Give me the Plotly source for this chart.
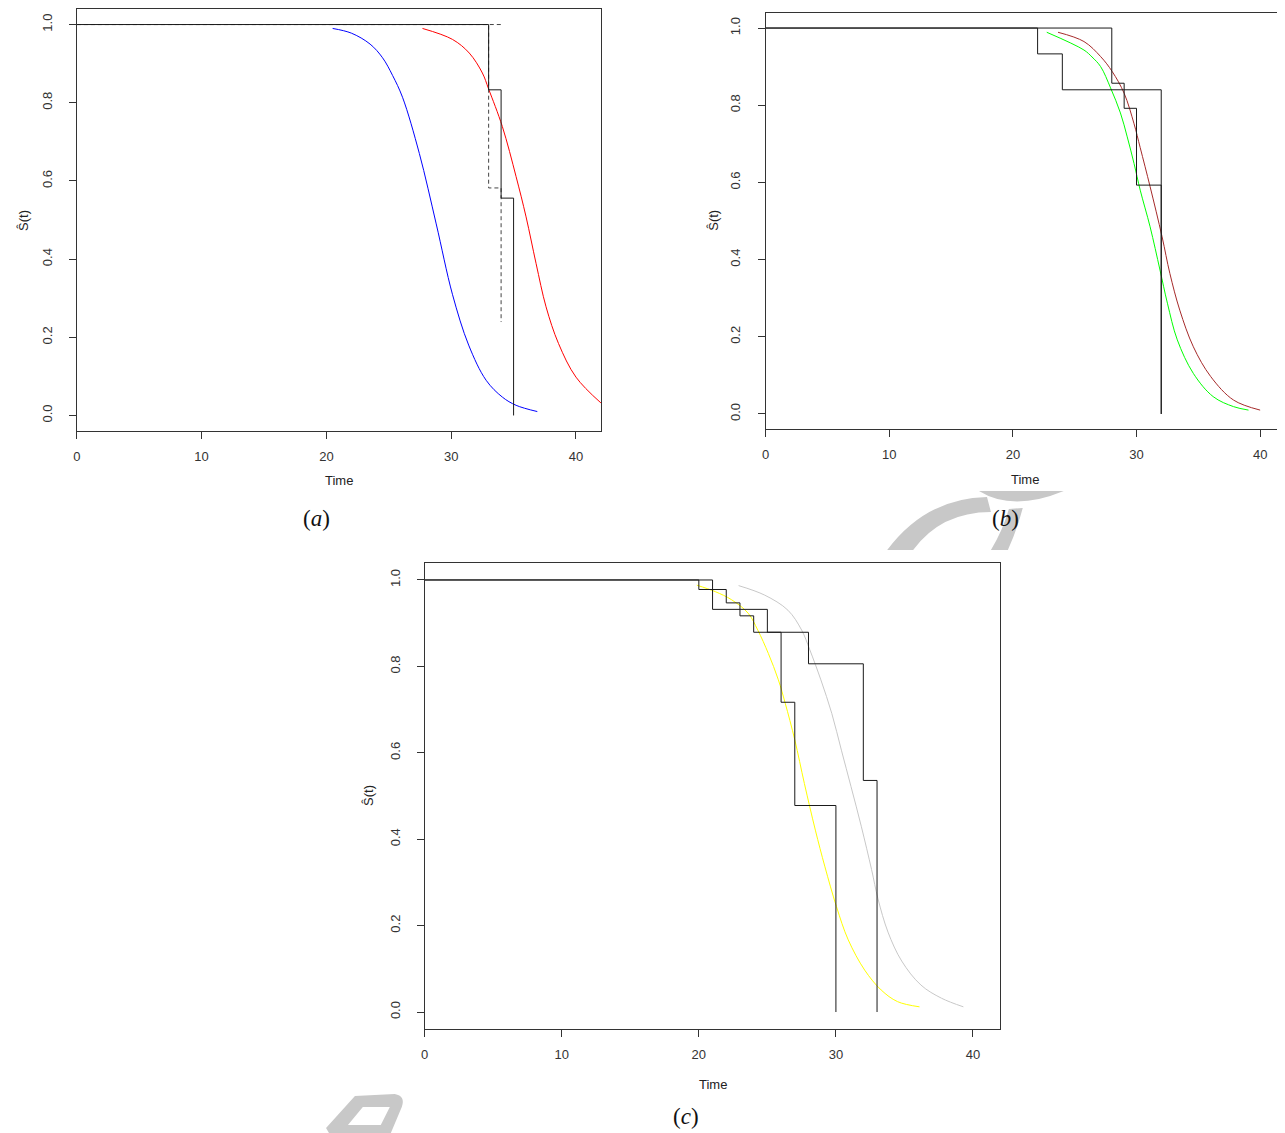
import plotly.graph_objects as go

# The page body has an 8px margin, so the figure is sized to fill the window exactly.
OFF = 8
W, H = 1285 - OFF, 1133 - OFF

# ---------------- data ----------------
# Panel (a)
a_km_t = [0, 33, 34, 35]
a_km_s = [1.0, 0.833, 0.556, 0.0]
a_lo_t = [0, 33, 34]
a_lo_s = [1.0, 0.582, 0.239]
a_up_t = [0, 34]
a_up_s = [1.0, 1.0]
a_blue_t = [20.5, 22.0, 23.5, 24.5, 25.3, 26.1, 27.45, 28.8, 30.1, 31.4, 32.8, 34.1, 35.2, 36.9]
a_blue_s = [0.99, 0.978, 0.95, 0.915, 0.87, 0.814, 0.67, 0.49, 0.31, 0.18, 0.09, 0.047, 0.026, 0.01]
a_red_t = [27.7, 30.1, 31.45, 32.5, 33.0, 34.1, 35.2, 36.0, 36.8, 37.6, 38.6, 40.0, 42.0]
a_red_s = [0.99, 0.962, 0.927, 0.876, 0.835, 0.739, 0.611, 0.508, 0.389, 0.278, 0.184, 0.098, 0.032]

# Panel (b)
b_km1_t = [0, 22, 24, 32]
b_km1_s = [1.0, 0.933, 0.84, 0.0]
b_km2_t = [0, 28, 29, 30, 32]
b_km2_s = [1.0, 0.857, 0.792, 0.593, 0.0]
b_green_t = [22.74, 25.75, 26.4, 27.1, 27.9, 28.7, 29.25, 29.8, 30.3, 31.1, 31.9, 32.5, 33.3, 34.6, 36.2, 37.85, 39.06]
b_green_s = [0.989, 0.943, 0.925, 0.9, 0.845, 0.78, 0.718, 0.649, 0.58, 0.485, 0.373, 0.287, 0.192, 0.105, 0.045, 0.019, 0.01]
b_brown_t = [23.65, 25.75, 27.1, 28.04, 29.0, 29.8, 30.3, 31.1, 32.07, 32.7, 33.5, 34.6, 36.0, 37.85, 40.0]
b_brown_s = [0.989, 0.965, 0.926, 0.887, 0.831, 0.752, 0.69, 0.589, 0.459, 0.364, 0.269, 0.174, 0.097, 0.036, 0.01]

# Panel (c)
c_km1_t = [0, 20, 22, 23, 24, 26, 27, 30]
c_km1_s = [1.0, 0.978, 0.947, 0.917, 0.879, 0.717, 0.478, 0.0]
c_km2_t = [0, 21, 25, 28, 32, 33]
c_km2_s = [1.0, 0.932, 0.879, 0.806, 0.536, 0.0]
c_yellow_t = [19.85, 21.2, 22.4, 23.6, 24.3, 25.07, 25.8, 26.3, 27.0, 27.7, 28.5, 29.2, 30.04, 30.9, 32.1, 33.3, 34.5, 36.1]
c_yellow_s = [0.988, 0.973, 0.954, 0.923, 0.884, 0.83, 0.769, 0.715, 0.63, 0.529, 0.421, 0.336, 0.244, 0.167, 0.097, 0.051, 0.024, 0.012]
c_gray_t = [22.9, 24.8, 26.5, 27.5, 28.1, 28.9, 29.7, 30.4, 31.1, 31.85, 32.6, 33.07, 33.8, 34.8, 36.2, 37.7, 39.3]
c_gray_s = [0.987, 0.965, 0.93, 0.884, 0.838, 0.769, 0.691, 0.606, 0.522, 0.43, 0.33, 0.262, 0.185, 0.118, 0.0625, 0.032, 0.012]

x_ticks = [0, 10, 20, 30, 40]
y_ticks = [0.0, 0.2, 0.4, 0.6, 0.8, 1.0]
captions = ["(<i>a</i>)", "(<i>b</i>)", "(<i>c</i>)"]
x_title = "Time"
y_title = "Ŝ(t)"

# ---------------- layout helpers (window pixel -> paper) ----------------
def px_x(p):
    return (p - OFF) / W

def px_y(p):
    return 1 - (p - OFF) / H

panels = {
    # name: (x0px, x1px, ytop_px, ybot_px, xrange_max)
    "a": (73, 598.8, 8.9, 431.1, 42.0),
    "b": (764, 1282, 12.6, 429.4, 41.77),
    "c": (422, 999.5, 562.7, 1029.3, 42.0),
}

fig = go.Figure()

def step(t, s, ax, dash="solid", color="#1a1a1a"):
    fig.add_trace(go.Scatter(x=t, y=s, mode="lines", line=dict(color=color, width=1, dash=dash, shape="hv"),
                             xaxis="x" + ax, yaxis="y" + ax, showlegend=False, hoverinfo="skip"))

def curve(t, s, ax, color):
    fig.add_trace(go.Scatter(x=t, y=s, mode="lines", line=dict(color=color, width=1, shape="spline", smoothing=1.0),
                             xaxis="x" + ax, yaxis="y" + ax, showlegend=False, hoverinfo="skip"))

# panel a -> axes x1/y1
curve(a_blue_t, a_blue_s, "", "#0000ff")
curve(a_red_t, a_red_s, "", "#ff0000")
step(a_up_t, a_up_s, "", dash="4px,3px", color="#444")
step(a_lo_t, a_lo_s, "", dash="4px,3px", color="#444")
step(a_km_t, a_km_s, "")
# panel b -> x2/y2
curve(b_green_t, b_green_s, "2", "#00ff00")
curve(b_brown_t, b_brown_s, "2", "#a52a2a")
step(b_km1_t, b_km1_s, "2")
step(b_km2_t, b_km2_s, "2")
# panel c -> x3/y3
curve(c_yellow_t, c_yellow_s, "3", "#ffff00")
curve(c_gray_t, c_gray_s, "3", "#c8c8c8")
step(c_km1_t, c_km1_s, "3")
step(c_km2_t, c_km2_s, "3")

tickfont = dict(family="Liberation Sans, Arial, sans-serif", size=13, color="#333")

def xaxis(p, anchor):
    x0, x1, yt, yb, xmax = panels[p]
    return dict(domain=[px_x(x0), px_x(x1)], range=[0, xmax], anchor=anchor,
                tickvals=x_ticks, ticks="outside", ticklen=7, tickcolor="#333", tickwidth=1,
                showline=True, linecolor="#333", linewidth=1, mirror=True, showgrid=False, zeroline=False,
                tickfont=tickfont, ticklabelstandoff=6, fixedrange=True)

def yaxis(p, anchor):
    x0, x1, yt, yb, xmax = panels[p]
    return dict(domain=[px_y(yb), px_y(yt)], range=[-0.04, 1.04], anchor=anchor,
                tickvals=y_ticks, tickformat=".1f", ticks="outside", ticklen=7, tickcolor="#333", tickwidth=1,
                tickangle=-90,
                showline=True, linecolor="#333", linewidth=1, mirror=True, showgrid=False, zeroline=False,
                tickfont=tickfont, ticklabelstandoff=12, fixedrange=True)

fig.update_layout(
    width=W, height=H, margin=dict(l=0, r=0, t=0, b=0),
    paper_bgcolor="white", plot_bgcolor="white",
    xaxis=xaxis("a", "y"), yaxis=yaxis("a", "x"),
    xaxis2=xaxis("b", "y2"), yaxis2=yaxis("b", "x2"),
    xaxis3=xaxis("c", "y3"), yaxis3=yaxis("c", "x3"),
)

# axis titles and captions as annotations
lab_font = dict(family="Liberation Sans, Arial, sans-serif", size=13, color="#222")
cap_font = dict(family="Liberation Serif, Times New Roman, serif", size=23, color="#111")
title_pos = {"a": ((336, 480), (20, 220), (313, 518)),
             "b": ((1024, 479), (712, 220), (1005, 518)),
             "c": ((711, 1084), (365, 795), (684, 1116))}
for i, p in enumerate(["a", "b", "c"]):
    (tx, ty), (sx, sy), (cx, cy) = title_pos[p]
    fig.add_annotation(x=px_x(tx), y=px_y(ty), xref="paper", yref="paper", text=x_title,
                       showarrow=False, font=lab_font, xanchor="center", yanchor="middle")
    fig.add_annotation(x=px_x(sx), y=px_y(sy), xref="paper", yref="paper", text=y_title, textangle=-90,
                       showarrow=False, font=lab_font, xanchor="center", yanchor="middle")
    fig.add_annotation(x=px_x(cx), y=px_y(cy), xref="paper", yref="paper", text=captions[i],
                       showarrow=False, font=cap_font, xanchor="center", yanchor="middle")

# faint watermark fragments (decoration), drawn as smooth paths
def P(x, y):
    return "{:.4f},{:.4f}".format(px_x(x), px_y(y))

wm_b = " ".join([
    # curved stroke to the left of "(b)"
    "M " + P(886, 550) + " Q " + P(925, 498) + " " + P(986, 497) + " L " + P(990, 512)
    + " Q " + P(940, 512) + " " + P(912, 550) + " Z",
    # stroke to the right of "(b)"
    "M " + P(990, 550) + " L " + P(1007, 550) + " Q " + P(1016, 530) + " " + P(1022, 508)
    + " L " + P(1008, 509) + " Q " + P(1002, 530) + " " + P(990, 550) + " Z",
    # crescent below the "Time" label of panel (b)
    "M " + P(978, 491) + " L " + P(1063, 491) + " Q " + P(1012, 512) + " " + P(978, 491) + " Z",
])
fig.add_shape(type="path", xref="paper", yref="paper", path=wm_b,
              fillcolor="#c8c8c8", line=dict(width=0), layer="below")
wm_c = " ".join([
    "M " + P(323, 1128) + " L " + P(352, 1096) + " L " + P(392, 1094) + " Q " + P(403, 1096) + " " + P(399, 1107)
    + " L " + P(388, 1133) + " L " + P(326, 1133) + " Z",
    "M " + P(345, 1125) + " L " + P(378, 1125) + " L " + P(387, 1107) + " L " + P(360, 1107) + " Z",
])
fig.add_shape(type="path", xref="paper", yref="paper", path=wm_c,
              fillcolor="#c8c8c8", line=dict(width=0), layer="below")

fig.write_html("out.html")
